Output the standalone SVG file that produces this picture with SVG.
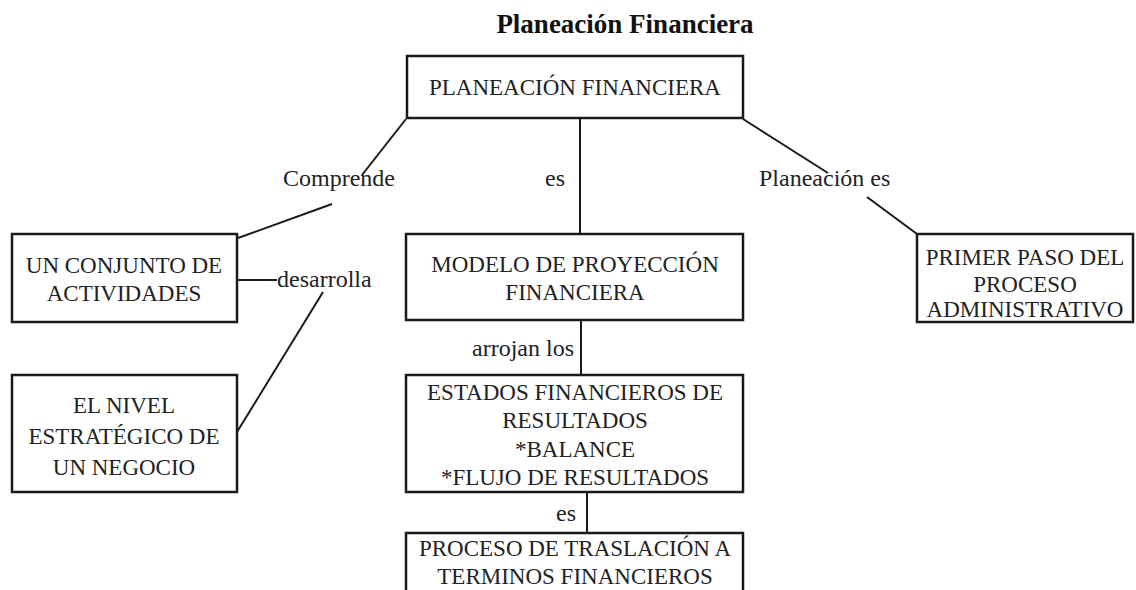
<svg xmlns="http://www.w3.org/2000/svg" width="1136" height="590" viewBox="0 0 1136 590">
<style>
  .box { fill: #ffffff; stroke: #1a1a1a; stroke-width: 2.5; }
  .t { font-family: "Liberation Serif", "Times New Roman", serif; font-size: 23px; fill: #222222; text-anchor: middle; }
  .lbl { font-family: "Liberation Serif", "Times New Roman", serif; font-size: 24px; fill: #222222; }
  .title { font-family: "Liberation Serif", "Times New Roman", serif; font-size: 27px; font-weight: bold; fill: #111111; text-anchor: middle; }
  .c { stroke: #1a1a1a; stroke-width: 2; fill: none; }
</style>
<rect width="1136" height="590" fill="#ffffff"/>
<text class="title" x="625" y="33">Planeación Financiera</text>

<g id="connectors">
  <line class="c" x1="406" y1="119" x2="362" y2="175"/>
  <line class="c" x1="332" y1="204" x2="238" y2="238"/>
  <line class="c" x1="580" y1="119" x2="580" y2="234"/>
  <line class="c" x1="743" y1="119" x2="828" y2="173"/>
  <line class="c" x1="867" y1="197" x2="917" y2="234"/>
  <line class="c" x1="237" y1="280" x2="277" y2="280"/>
  <line class="c" x1="323" y1="292" x2="237" y2="432"/>
  <line class="c" x1="581" y1="320" x2="581" y2="375"/>
  <line class="c" x1="587" y1="492" x2="587" y2="533"/>
  <text class="lbl" x="283" y="186">Comprende</text>
  <text class="lbl" x="545" y="186">es</text>
  <text class="lbl" x="759" y="186">Planeación es</text>
  <text class="lbl" x="277" y="287">desarrolla</text>
  <text class="lbl" x="472" y="356">arrojan los</text>
  <text class="lbl" x="556" y="521">es</text>
</g>

<g id="planeacion">
  <rect class="box" x="407" y="56" width="336" height="62"/>
  <text class="t" x="575" y="95">PLANEACIÓN FINANCIERA</text>
</g>

<g id="conjunto">
  <rect class="box" x="12" y="234" width="225" height="88"/>
  <text class="t" x="124" y="273">UN CONJUNTO DE</text>
  <text class="t" x="124" y="301">ACTIVIDADES</text>
</g>

<g id="nivel">
  <rect class="box" x="12" y="375" width="225" height="117"/>
  <text class="t" x="124" y="413">EL NIVEL</text>
  <text class="t" x="124" y="444">ESTRATÉGICO DE</text>
  <text class="t" x="124" y="475">UN NEGOCIO</text>
</g>

<g id="modelo">
  <rect class="box" x="406" y="234" width="337" height="86"/>
  <text class="t" x="575" y="272">MODELO DE PROYECCIÓN</text>
  <text class="t" x="575" y="300">FINANCIERA</text>
</g>

<g id="estados">
  <rect class="box" x="406" y="375" width="337" height="117"/>
  <text class="t" x="575" y="400">ESTADOS FINANCIEROS DE</text>
  <text class="t" x="575" y="428">RESULTADOS</text>
  <text class="t" x="575" y="457">*BALANCE</text>
  <text class="t" x="575" y="485">*FLUJO DE RESULTADOS</text>
</g>

<g id="proceso">
  <rect class="box" x="406" y="533" width="337" height="80"/>
  <text class="t" x="575" y="556">PROCESO DE TRASLACIÓN A</text>
  <text class="t" x="575" y="584">TERMINOS FINANCIEROS</text>
</g>

<g id="primer">
  <rect class="box" x="917" y="234" width="216" height="88"/>
  <text class="t" x="1025" y="265">PRIMER PASO DEL</text>
  <text class="t" x="1025" y="292">PROCESO</text>
  <text class="t" x="1025" y="317">ADMINISTRATIVO</text>
</g>
</svg>
